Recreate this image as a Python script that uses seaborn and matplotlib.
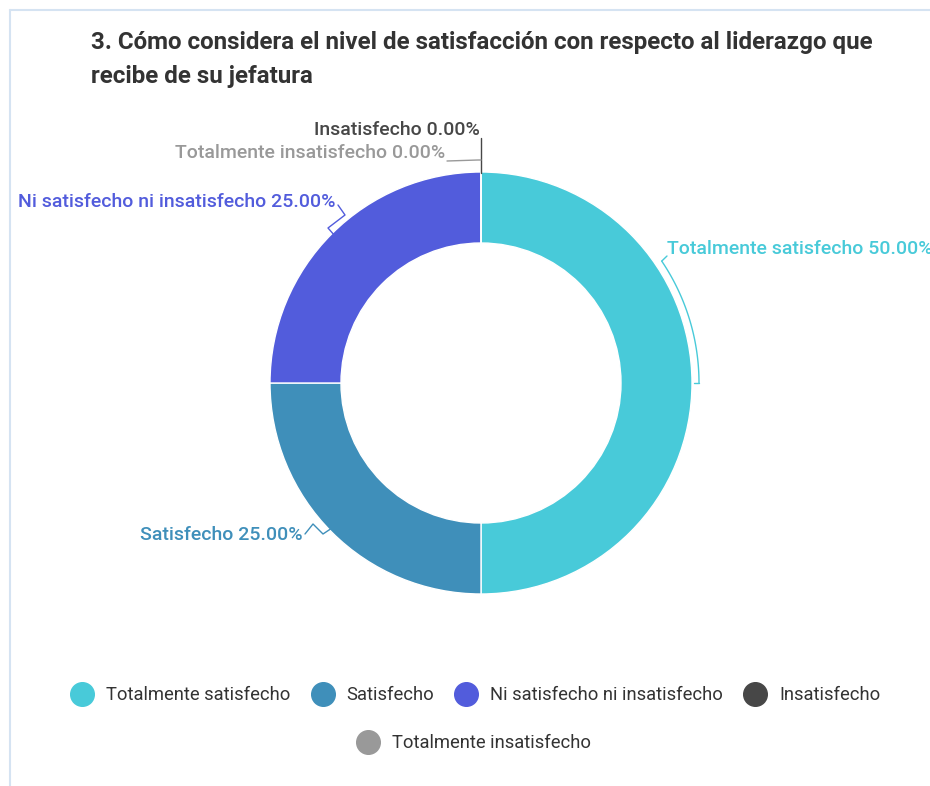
import numpy as np
import matplotlib
matplotlib.use("Agg")
import matplotlib.pyplot as plt
import seaborn as sns
from matplotlib.lines import Line2D

categories = ["Totalmente satisfecho", "Satisfecho", "Ni satisfecho ni insatisfecho",
              "Insatisfecho", "Totalmente insatisfecho"]
values = [50.0, 25.0, 25.0, 0.0, 0.0]
colors = ["#48CAD9", "#3F8FBA", "#525CDC", "#474747", "#999999"]
title_lines = ["3. Cómo considera el nivel de satisfacción con respecto al liderazgo que",
               "recibe de su jefatura"]

sns.set_theme(style="white")
plt.rcParams['font.family'] = ['Roboto', 'DejaVu Sans']

W, H = 930, 786
fig = plt.figure(figsize=(W / 100, H / 100), dpi=100)
ax = fig.add_axes([0, 0, 1, 1])

cx, cy, R, r = 481, 383, 211, 140
wedges, _ = ax.pie(values, colors=colors, startangle=-90, counterclock=True,
                   center=(cx, cy), radius=R, frame=True,
                   wedgeprops=dict(width=R - r, edgecolor="white", linewidth=1))
ax.set_xlim(0, W)
ax.set_ylim(H, 0)
ax.set_aspect("equal")
ax.axis("off")

# frame lines
ax.plot([10, W], [10, 10], color="#D5E3F2", lw=1.5)
ax.plot([10, 10], [10, H], color="#D5E3F2", lw=1.5)

ax.text(91, 43, title_lines[0], fontsize=17.4, fontweight="bold", color="#333333",
        va="center", ha="left")
ax.text(91, 77, title_lines[1], fontsize=17.4, fontweight="bold", color="#333333",
        va="center", ha="left")

fs = 14
fw = "medium"
# labels
ax.text(480, 130, "Insatisfecho 0.00%", color="#474747", fontsize=fs, fontweight=fw, ha="right", va="center")
ax.plot([481, 481], [138, 173], color="#474747", lw=1)
ax.text(445, 153, "Totalmente insatisfecho 0.00%", color="#999999", fontsize=fs, fontweight=fw, ha="right", va="center")
ax.plot([447, 478, 481], [161, 160, 160], color="#999999", lw=1)

ax.text(18, 202, "Ni satisfecho ni insatisfecho 25.00%", color="#525CDC", fontsize=fs, fontweight=fw, ha="left", va="center")
ax.plot([338, 345, 328, 335], [205, 215, 228, 236], color="#525CDC", lw=1)

ax.text(303, 535, "Satisfecho 25.00%", color="#3F8FBA", fontsize=fs, fontweight=fw, ha="right", va="center")
ax.plot([305, 313, 323, 332], [534, 524, 534, 528], color="#3F8FBA", lw=1)

ax.text(667, 249, "Totalmente satisfecho 50.00%", color="#48CAD9", fontsize=fs, fontweight=fw, ha="left", va="center")
Rb = R + 7
a0 = np.deg2rad(56)
th = np.linspace(a0, np.deg2rad(90), 60)
ax.plot(cx + Rb * np.sin(th), cy - Rb * np.cos(th), color="#48CAD9", lw=1)
ax.plot([cx + Rb * np.sin(a0), 667], [cy - Rb * np.cos(a0), 256], color="#48CAD9", lw=1)
ax.plot([cx + Rb, cx + R + 2], [cy, cy], color="#48CAD9", lw=1)

# legend
lfs = 13.2
handles = [Line2D([], [], marker="o", ls="", markersize=17, markerfacecolor=c, markeredgecolor=c)
           for c in colors]
leg1 = ax.legend(handles[:4], categories[:4], loc="center", bbox_to_anchor=(474 / W, 1 - 695 / H),
                 bbox_transform=fig.transFigure, ncol=4, frameon=False, fontsize=lfs,
                 handletextpad=0.5, columnspacing=0.95, handlelength=1.6, labelcolor="#333333")
ax.add_artist(leg1)
ax.legend(handles[4:], categories[4:], loc="center", bbox_to_anchor=(472 / W, 1 - 743 / H),
          bbox_transform=fig.transFigure, ncol=1, frameon=False, fontsize=lfs,
          handletextpad=0.5, handlelength=1.6, labelcolor="#333333")

fig.savefig("out.png", dpi=100, facecolor="white")
